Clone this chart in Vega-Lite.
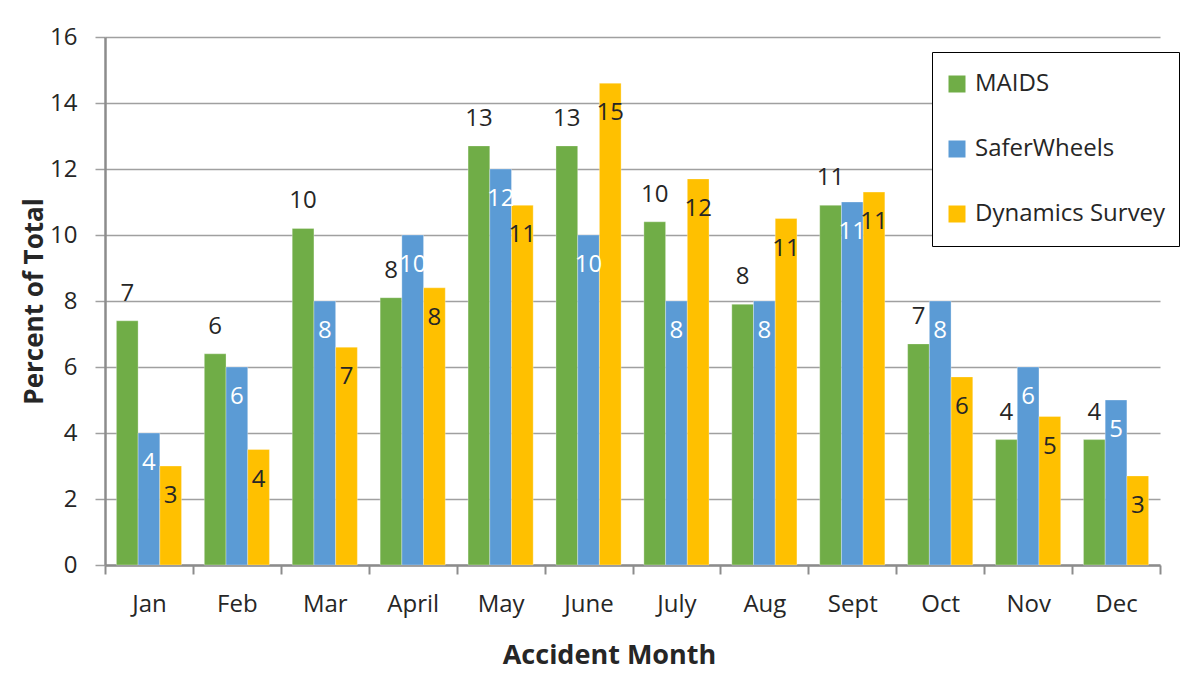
{
  "$schema": "https://vega.github.io/schema/vega-lite/v6.json",
  "width": 1055,
  "height": 528,
  "autosize": {"type": "none"},
  "padding": {"left": 105, "top": 37, "right": 32, "bottom": 126},
  "background": "white",
  "config": {
    "font": "Open Sans",
    "view": {"stroke": null},
    "axis": {"labelColor": "#262626", "titleColor": "#262626"}
  },
  "data": {
    "values": [
      {"month": "Jan", "series": "MAIDS", "value": 7.4},
      {"month": "Jan", "series": "SaferWheels", "value": 4.0},
      {"month": "Jan", "series": "Dynamics Survey", "value": 3.0},
      {"month": "Feb", "series": "MAIDS", "value": 6.4},
      {"month": "Feb", "series": "SaferWheels", "value": 6.0},
      {"month": "Feb", "series": "Dynamics Survey", "value": 3.5},
      {"month": "Mar", "series": "MAIDS", "value": 10.2},
      {"month": "Mar", "series": "SaferWheels", "value": 8.0},
      {"month": "Mar", "series": "Dynamics Survey", "value": 6.6},
      {"month": "April", "series": "MAIDS", "value": 8.1},
      {"month": "April", "series": "SaferWheels", "value": 10.0},
      {"month": "April", "series": "Dynamics Survey", "value": 8.4},
      {"month": "May", "series": "MAIDS", "value": 12.7},
      {"month": "May", "series": "SaferWheels", "value": 12.0},
      {"month": "May", "series": "Dynamics Survey", "value": 10.9},
      {"month": "June", "series": "MAIDS", "value": 12.7},
      {"month": "June", "series": "SaferWheels", "value": 10.0},
      {"month": "June", "series": "Dynamics Survey", "value": 14.6},
      {"month": "July", "series": "MAIDS", "value": 10.4},
      {"month": "July", "series": "SaferWheels", "value": 8.0},
      {"month": "July", "series": "Dynamics Survey", "value": 11.7},
      {"month": "Aug", "series": "MAIDS", "value": 7.9},
      {"month": "Aug", "series": "SaferWheels", "value": 8.0},
      {"month": "Aug", "series": "Dynamics Survey", "value": 10.5},
      {"month": "Sept", "series": "MAIDS", "value": 10.9},
      {"month": "Sept", "series": "SaferWheels", "value": 11.0},
      {"month": "Sept", "series": "Dynamics Survey", "value": 11.3},
      {"month": "Oct", "series": "MAIDS", "value": 6.7},
      {"month": "Oct", "series": "SaferWheels", "value": 8.0},
      {"month": "Oct", "series": "Dynamics Survey", "value": 5.7},
      {"month": "Nov", "series": "MAIDS", "value": 3.8},
      {"month": "Nov", "series": "SaferWheels", "value": 6.0},
      {"month": "Nov", "series": "Dynamics Survey", "value": 4.5},
      {"month": "Dec", "series": "MAIDS", "value": 3.8},
      {"month": "Dec", "series": "SaferWheels", "value": 5.0},
      {"month": "Dec", "series": "Dynamics Survey", "value": 2.7}
    ]
  },
  "encoding": {
    "x": {
      "field": "month",
      "type": "nominal",
      "sort": ["Jan", "Feb", "Mar", "April", "May", "June", "July", "Aug", "Sept", "Oct", "Nov", "Dec"],
      "scale": {"paddingInner": 0, "paddingOuter": 0},
      "axis": {
        "title": "Accident Month",
        "titleFontSize": 27,
        "titleFontWeight": "bold",
        "titleBaseline": "alphabetic",
        "titleAlign": "center",
        "titleAnchor": null,
        "titleX": 504,
        "titleY": 98,
        "labelAngle": 0,
        "labelFontSize": 24,
        "labelBaseline": "top",
        "labelPadding": 18,
        "tickSize": 9,
        "tickBand": "extent",
        "tickColor": "#8c8c8c",
        "tickWidth": 2,
        "domainColor": "#8c8c8c",
        "domainWidth": 2.5,
        "grid": false
      }
    },
    "xOffset": {
      "field": "series",
      "type": "nominal",
      "scale": {"domain": ["MAIDS", "SaferWheels", "Dynamics Survey"], "paddingInner": 0, "paddingOuter": 0.525}
    },
    "y": {
      "field": "value",
      "type": "quantitative",
      "scale": {"domain": [0, 16], "nice": false},
      "axis": {
        "title": "Percent of Total",
        "titleFontSize": 26,
        "titleFontWeight": "bold",
        "titleAngle": -90,
        "titleBaseline": "alphabetic",
        "titleAlign": "center",
        "titleX": -63,
        "titleY": 264,
        "values": [0, 2, 4, 6, 8, 10, 12, 14, 16],
        "labelFontSize": 24,
        "labelPadding": 18,
        "tickSize": 10,
        "tickColor": "#a0a0a0",
        "tickWidth": 1.5,
        "domainColor": "#8c8c8c",
        "domainWidth": 2.5,
        "gridColor": "#a0a0a0",
        "gridWidth": 1.5
      }
    }
  },
  "layer": [
    {
      "mark": {"type": "bar", "stroke": "white", "strokeWidth": 0.5, "strokeOpacity": 0.6},
      "encoding": {
        "color": {
          "field": "series",
          "type": "nominal",
          "scale": {"domain": ["MAIDS", "SaferWheels", "Dynamics Survey"], "range": ["#70AD47", "#5B9BD5", "#FFC000"]},
          "legend": {
            "title": null,
            "orient": "none",
            "legendX": 827,
            "legendY": 15,
            "padding": 13,
            "strokeColor": "black",
            "fillColor": "white",
            "symbolType": "square",
            "symbolSize": 289,
            "symbolStrokeWidth": 0,
            "labelFontSize": 24,
            "labelColor": "#262626",
            "labelOffset": 6,
            "labelLimit": 400,
            "clipHeight": 38,
            "rowPadding": 27,
            "encode": {"legend": {"update": {"strokeWidth": {"value": 1.5}}}}
          }
        }
      }
    },
    {
      "transform": [{"filter": "datum.series === 'MAIDS'"}],
      "mark": {"type": "text", "baseline": "alphabetic", "dy": -20, "fontSize": 24, "color": "#262626"},
      "encoding": {"text": {"field": "value", "type": "quantitative", "format": ".0f"}}
    },
    {
      "transform": [{"filter": "datum.series !== 'MAIDS'"}],
      "mark": {"type": "text", "baseline": "alphabetic", "dy": 37, "fontSize": 24},
      "encoding": {
        "text": {"field": "value", "type": "quantitative", "format": ".0f"},
        "color": {"condition": {"test": "datum.series === 'SaferWheels'", "value": "white"}, "value": "#262626"}
      }
    }
  ]
}
